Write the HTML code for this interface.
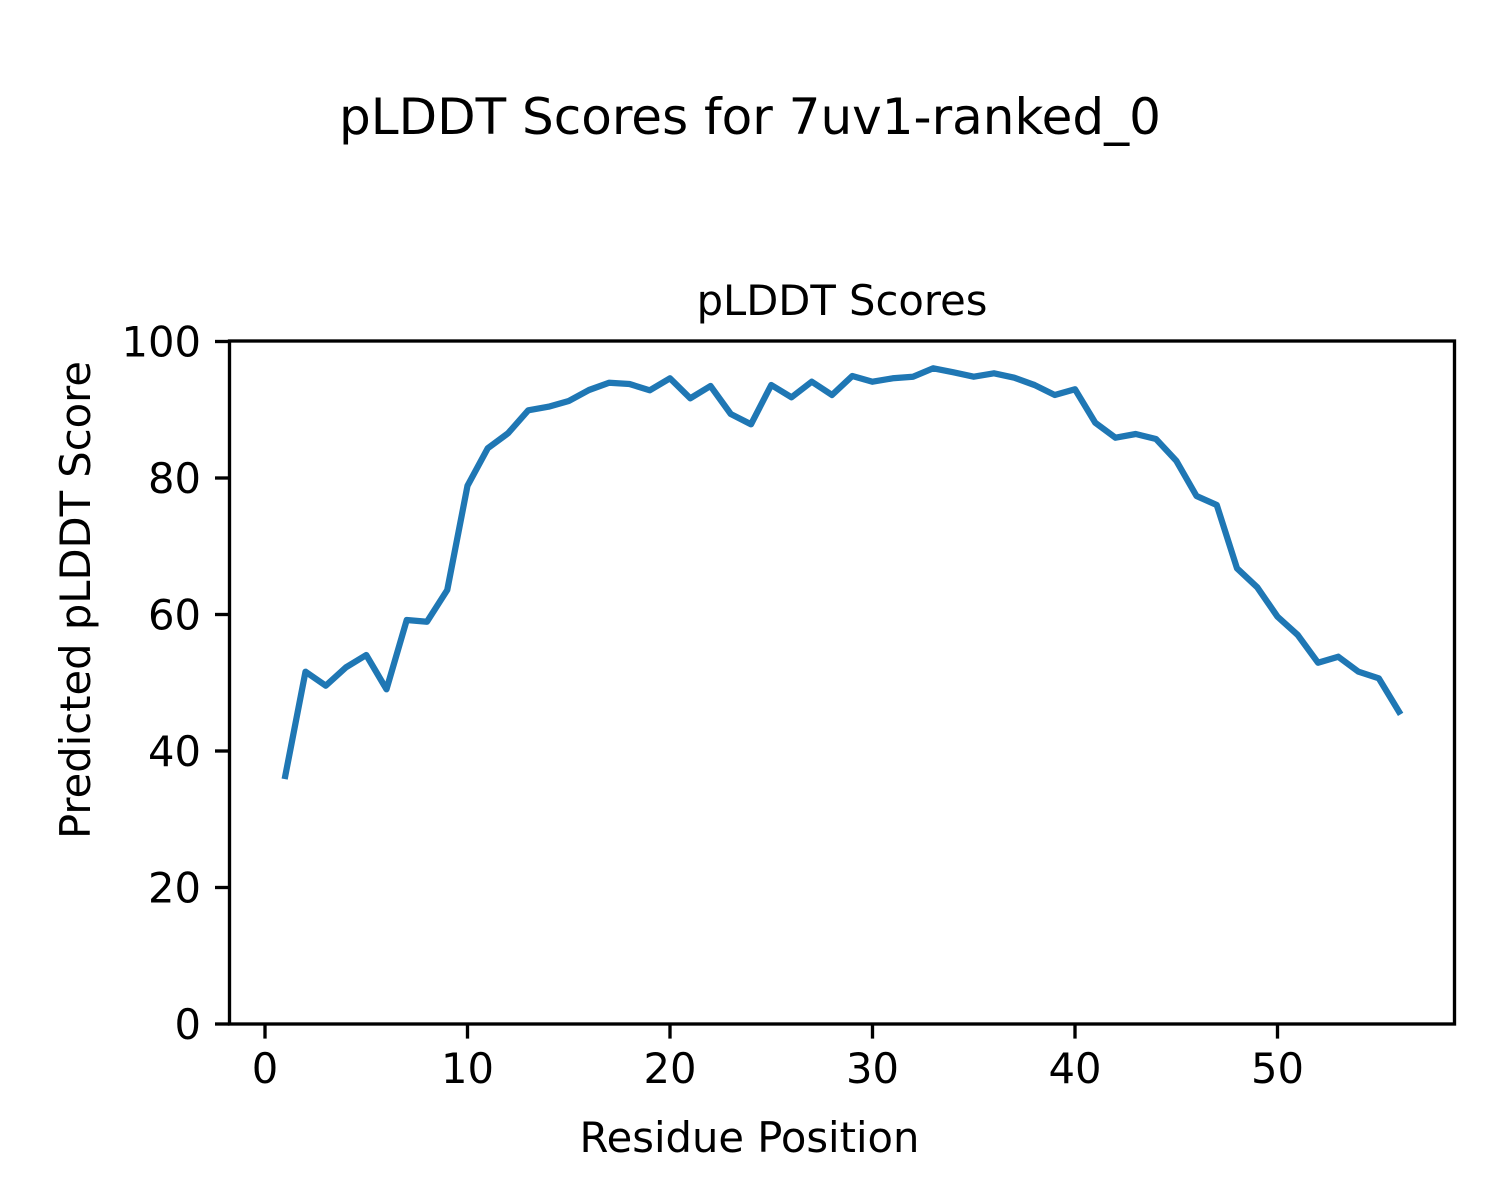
<!DOCTYPE html>
<html>
<head>
<meta charset="utf-8">
<style>
  html, body { margin: 0; padding: 0; background: #ffffff; }
  svg { display: block; }
  text { font-family: "DejaVu Sans", "Liberation Sans", sans-serif; fill: #000; }
</style>
</head>
<body>
<svg width="1500" height="1200" viewBox="0 0 1500 1200" xmlns="http://www.w3.org/2000/svg">
  <rect x="0" y="0" width="1500" height="1200" fill="#ffffff"/>

  <!-- Suptitle -->
  <text x="750" y="134" font-size="50" text-anchor="middle">pLDDT Scores for 7uv1-ranked_0</text>

  <!-- Axes title -->
  <text x="842" y="315" font-size="41.67" text-anchor="middle">pLDDT Scores</text>

  <!-- Data line -->
  <polyline fill="none" stroke="#1f77b4" stroke-width="6.25" stroke-linejoin="round" stroke-linecap="square"
    points="
285.25,776 305.5,671.7 325.75,685.7 346,667.3 366.25,655 386.5,689.3 406.75,620 427,621.7 447.25,590 467.5,485.7
487.75,448.3 508,433.3 528.25,410.3 548.5,406.7 568.75,401 589,390 609.25,382.7 629.5,384 649.75,390.3 670,378.3
690.25,398.3 710.5,386 730.75,414 751,424.3 771.25,385 791.5,397.3 811.75,381.7 832,395 852.25,376 872.5,381.7
892.75,378.3 913,376.7 933.25,368.3 953.5,372.3 973.75,376.7 994,373.3 1014.25,377.7 1034.5,385 1054.75,395 1075,389.3
1095.25,422.7 1115.5,437.7 1135.75,434 1156,439 1176.25,460.7 1196.5,496 1216.75,505 1237,568.3 1257.25,587.3 1277.5,616.7
1297.75,635 1318,662.7 1338.25,656.7 1358.5,671.7 1378.75,678.3 1399,711.7"/>

  <!-- Spines -->
  <rect x="229.5" y="341" width="1225" height="683" fill="none" stroke="#000" stroke-width="3.33" stroke-linejoin="miter"/>

  <!-- Y ticks -->
  <g stroke="#000" stroke-width="3.33">
    <line x1="215" y1="1024" x2="229.5" y2="1024"/>
    <line x1="215" y1="887.5" x2="229.5" y2="887.5"/>
    <line x1="215" y1="751" x2="229.5" y2="751"/>
    <line x1="215" y1="614.5" x2="229.5" y2="614.5"/>
    <line x1="215" y1="478" x2="229.5" y2="478"/>
    <line x1="215" y1="341.5" x2="229.5" y2="341.5"/>
  </g>
  <g font-size="41.67" text-anchor="end">
    <text x="201" y="1039">0</text>
    <text x="201" y="902.5">20</text>
    <text x="201" y="766">40</text>
    <text x="201" y="629.5">60</text>
    <text x="201" y="493">80</text>
    <text x="201" y="356.5">100</text>
  </g>

  <!-- X ticks -->
  <g stroke="#000" stroke-width="3.33">
    <line x1="265" y1="1024" x2="265" y2="1038.6"/>
    <line x1="467.5" y1="1024" x2="467.5" y2="1038.6"/>
    <line x1="670" y1="1024" x2="670" y2="1038.6"/>
    <line x1="872.5" y1="1024" x2="872.5" y2="1038.6"/>
    <line x1="1075" y1="1024" x2="1075" y2="1038.6"/>
    <line x1="1277.5" y1="1024" x2="1277.5" y2="1038.6"/>
  </g>
  <g font-size="41.67" text-anchor="middle">
    <text x="265" y="1083">0</text>
    <text x="467.5" y="1083">10</text>
    <text x="670" y="1083">20</text>
    <text x="872.5" y="1083">30</text>
    <text x="1075" y="1083">40</text>
    <text x="1277.5" y="1083">50</text>
  </g>

  <!-- Axis labels -->
  <text x="749.5" y="1152" font-size="41.67" text-anchor="middle">Residue Position</text>
  <text transform="translate(90,600) rotate(-90)" font-size="41.67" text-anchor="middle">Predicted pLDDT Score</text>
</svg>
</body>
</html>
